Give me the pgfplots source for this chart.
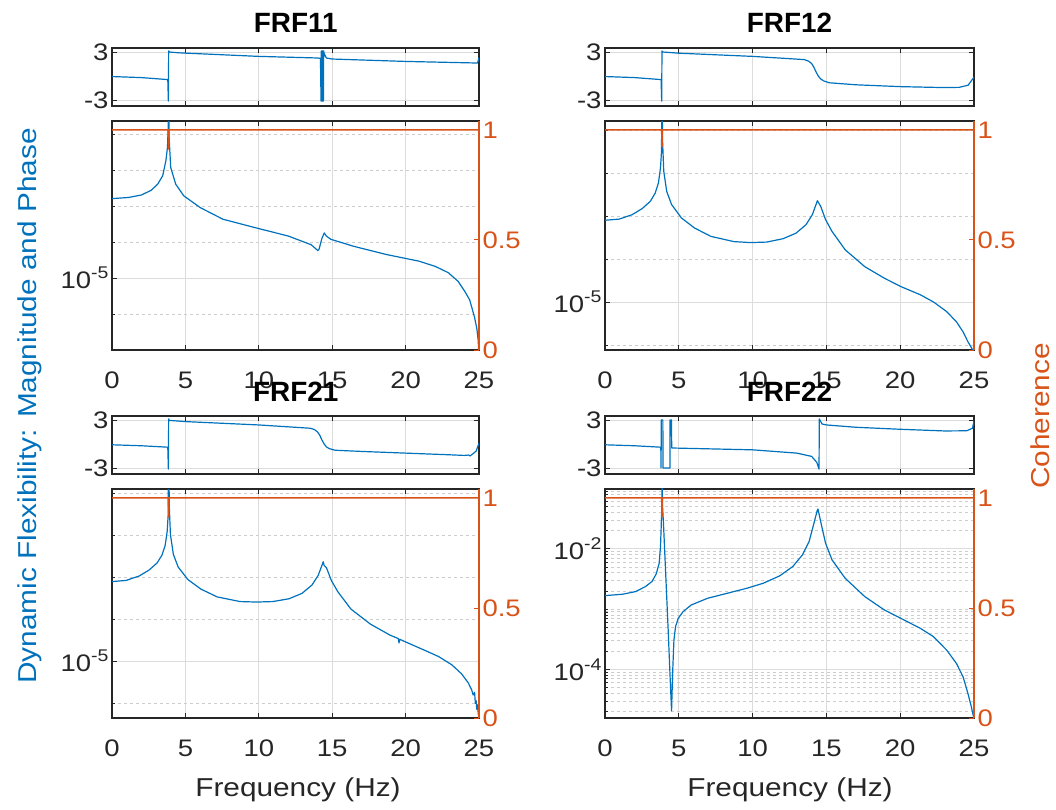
\documentclass[border=0pt]{standalone}
\usepackage{pgfplots}
\pgfplotsset{compat=1.18}
\usepackage{fontspec}
\setmainfont{Liberation Sans}[FakeStretch=1.15]
\newfontfamily\titlefam{Liberation Sans Bold}
\definecolor{mblue}{HTML}{0072BD}
\definecolor{morange}{HTML}{D95319}
\definecolor{axc}{HTML}{262626}
\definecolor{gridc}{HTML}{DCDCDC}
\definecolor{mgridc}{HTML}{CDCDCD}
\newcommand{\tickfont}{\fontsize{24}{24}\selectfont}
\newcommand{\labelfont}{\fontsize{26}{26}\selectfont}
\newcommand{\titlefont}{\titlefam\fontsize{28}{28}\selectfont}
\newcommand{\tensup}[1]{10\raisebox{0.42em}{\fontsize{17}{17}\selectfont #1}}
\pgfplotsset{
 frfbase/.style={scale only axis, anchor=south west, xmin=0, xmax=25, xtick={0,5,10,15,20,25},
   tick align=inside, axis line style={draw=axc, line width=1.3bp},
   tick style={draw=axc, line width=0.8bp}, major tick length=5bp, minor tick length=3bp,
   tick label style={font=\tickfont, text=axc}, xmajorgrids,
   major grid style={draw=gridc, line width=0.9bp},
   minor grid style={draw=mgridc, line width=0.9bp, dash pattern=on 3bp off 3bp}},
 frfphase/.style={frfbase, height=58bp, ymin=-3.75, ymax=3.5, ytick={-3,3}, yticklabels={-3,3},
   ymajorgrids, xticklabels={}, xtick pos=both, ytick pos=both},
 frfmag/.style={frfbase, height=229bp, xtick pos=both, ytick pos=left,
   ymajorgrids, yminorgrids, xticklabels={0,5,10,15,20,25},
   xticklabel style={anchor=base, yshift=-38bp}},
 frfcoh/.style={scale only axis, anchor=south west, height=229bp, xmin=0, xmax=25, ymin=0, ymax=1.04,
   axis y line*=right, axis x line=none, ytick={0,0.5,1}, yticklabels={0,0.5,1},
   tick align=inside, y axis line style={draw=morange, line width=1.3bp},
   ytick style={draw=morange, line width=0.8bp}, major tick length=5bp,
   yticklabel style={font=\tickfont, text=morange}},
 bl/.style={color=mblue, line width=1.2bp, mark=none, line join=round},
 ol/.style={color=morange, line width=1.5bp, mark=none},
}
\begin{document}
\begin{tikzpicture}
\path[use as bounding box] (0,0) rectangle (1056bp,810bp);

% ================= FRF11 =================
\begin{axis}[frfphase, at={(112bp,704bp)}, width=367bp]
\addplot[bl] coordinates {(0,-0.07)(2,-0.2)(3.8,-0.45)(3.84,-3.14)(3.86,3.14)(3.9,3.0)(4.5,2.9)(10,2.45)(14,2.25)(14.2,2.2)(14.24,-3.14)(14.26,3.14)(14.28,-3.14)(14.3,3.14)(14.32,-3.14)(14.34,3.14)(14.36,-3.14)(14.38,3.14)(14.4,-3.14)(14.42,3.14)(14.45,2.8)(14.6,2.25)(15,2.12)(20,1.82)(24.9,1.62)(25,2.3)};
\end{axis}
\begin{axis}[ymode=log, frfmag, at={(112bp,460bp)}, width=367bp, ymin=3.98e-6, ymax=7.45e-5,
  ytick={1e-5}, yticklabels={\tensup{-5}}, minor ytick={6.31e-6,1.585e-5,2.512e-5,3.981e-5,6.31e-5}]
\addplot[bl] coordinates {(0,2.76e-5)(1.11,2.80e-5)(2.0,2.89e-5)(2.67,3.07e-5)(3.11,3.32e-5)(3.45,3.69e-5)(3.67,4.48e-5)(3.78,5.32e-5)(3.83,7.0e-5)(3.86,1.6e-4)(3.89,6.04e-5)(4.0,4.11e-5)(4.34,3.32e-5)(4.89,2.86e-5)(6.01,2.46e-5)(7.56,2.12e-5)(9.79,1.90e-5)(12.01,1.71e-5)(13.57,1.53e-5)(14.02,1.42e-5)(14.1,1.44e-5)(14.3,1.66e-5)(14.46,1.78e-5)(14.6,1.71e-5)(14.91,1.64e-5)(16.46,1.50e-5)(18.69,1.35e-5)(20.91,1.24e-5)(22.02,1.16e-5)(22.91,1.07e-5)(23.58,9.57e-6)(24.03,8.43e-6)(24.36,7.57e-6)(24.52,6.81e-6)(24.7,6.03e-6)(24.85,5.25e-6)(24.95,4.47e-6)(25,3.16e-6)};
\end{axis}
\begin{axis}[frfcoh, at={(112bp,460bp)}, width=367bp]
\addplot[ol] coordinates {(0,1)(3.84,1)(3.86,0.91)(3.88,1)(25,1)};
\end{axis}

% ================= FRF12 =================
\begin{axis}[frfphase, at={(605bp,704bp)}, width=369bp]
\addplot[bl] coordinates {(0,-0.07)(2,-0.2)(3.8,-0.45)(3.84,-3.14)(3.86,3.14)(3.9,3.0)(5,2.85)(10,2.45)(13.5,2.05)(13.8,1.85)(14.0,1.55)(14.15,1.1)(14.3,0.5)(14.45,0.0)(14.6,-0.35)(14.8,-0.6)(15.2,-0.85)(17,-1.1)(20,-1.33)(23,-1.45)(24,-1.42)(24.6,-1.15)(25,-0.15)};
\end{axis}
\begin{axis}[ymode=log, frfmag, at={(605bp,460bp)}, width=369bp, ymin=5.98e-6, ymax=6.95e-5,
  ytick={1e-5}, yticklabels={\tensup{-5}}, minor ytick={6.31e-6,1.585e-5,2.512e-5,3.981e-5,6.31e-5}]
\addplot[bl] coordinates {(0,2.40e-5)(0.96,2.43e-5)(1.85,2.55e-5)(2.52,2.72e-5)(3.07,2.94e-5)(3.40,3.21e-5)(3.62,3.58e-5)(3.76,4.21e-5)(3.83,5.04e-5)(3.86,1.3e-4)(3.9,5.62e-5)(3.98,4.06e-5)(4.18,3.27e-5)(4.51,2.84e-5)(5.18,2.46e-5)(6.06,2.21e-5)(7.17,2.02e-5)(8.73,1.91e-5)(9.84,1.89e-5)(10.95,1.90e-5)(12.06,1.97e-5)(12.94,2.09e-5)(13.62,2.29e-5)(14.05,2.55e-5)(14.39,2.96e-5)(14.61,2.79e-5)(14.94,2.42e-5)(15.38,2.13e-5)(16.27,1.75e-5)(17.6,1.46e-5)(18.93,1.29e-5)(20.04,1.18e-5)(21.37,1.08e-5)(22.26,1.00e-5)(23.15,9.02e-6)(23.81,8.09e-6)(24.26,7.26e-6)(24.59,6.53e-6)(24.8,6.17e-6)(25,5.82e-6)};
\end{axis}
\begin{axis}[frfcoh, at={(605bp,460bp)}, width=369bp]
\addplot[ol] coordinates {(0,1)(3.84,1)(3.86,0.92)(3.88,1)(25,1)};
\end{axis}

% ================= FRF21 =================
\begin{axis}[frfphase, at={(112bp,336bp)}, width=367bp]
\addplot[bl] coordinates {(0,-0.1)(2,-0.22)(3.8,-0.4)(3.84,-3.14)(3.86,3.14)(3.9,2.95)(5,2.8)(10,2.38)(13.5,1.97)(13.8,1.8)(14.0,1.5)(14.15,1.1)(14.3,0.5)(14.45,0.0)(14.6,-0.35)(14.8,-0.58)(15.2,-0.78)(17,-0.93)(20,-1.14)(23,-1.35)(24,-1.43)(24.3,-1.38)(24.4,-1.5)(24.6,-1.2)(24.8,-0.9)(25,0.1)};
\end{axis}
\begin{axis}[ymode=log, frfmag, at={(112bp,92bp)}, width=367bp, ymin=5.36e-6, ymax=6.59e-5,
  ytick={1e-5}, yticklabels={\tensup{-5}}, minor ytick={6.31e-6,1.585e-5,2.512e-5,3.981e-5,6.31e-5}]
\addplot[bl] coordinates {(0,2.39e-5)(0.96,2.42e-5)(1.85,2.54e-5)(2.52,2.71e-5)(3.07,2.93e-5)(3.40,3.19e-5)(3.62,3.55e-5)(3.76,4.15e-5)(3.83,5.0e-5)(3.86,1.3e-4)(3.9,5.5e-5)(3.98,4.0e-5)(4.18,3.22e-5)(4.51,2.80e-5)(5.18,2.44e-5)(6.06,2.20e-5)(7.17,2.02e-5)(8.73,1.92e-5)(9.84,1.91e-5)(10.95,1.92e-5)(12.06,1.98e-5)(12.94,2.10e-5)(13.62,2.30e-5)(14.05,2.56e-5)(14.39,2.97e-5)(14.45,2.85e-5)(14.61,2.78e-5)(14.94,2.42e-5)(15.38,2.14e-5)(16.27,1.77e-5)(17.6,1.50e-5)(18.93,1.33e-5)(19.5,1.28e-5)(19.55,1.22e-5)(19.6,1.27e-5)(20.04,1.23e-5)(21.37,1.12e-5)(22.26,1.05e-5)(23.15,9.6e-6)(23.81,8.7e-6)(24.26,7.9e-6)(24.5,7.3e-6)(24.6,6.9e-6)(24.7,7.1e-6)(24.75,6.3e-6)(24.8,6.5e-6)(24.85,5.9e-6)(24.9,6.2e-6)(24.95,5.6e-6)(25,5.43e-6)};
\end{axis}
\begin{axis}[frfcoh, at={(112bp,92bp)}, width=367bp]
\addplot[ol] coordinates {(0,1)(3.84,1)(3.86,0.91)(3.88,1)(25,1)};
\end{axis}

% ================= FRF22 =================
\begin{axis}[frfphase, at={(605bp,336bp)}, width=369bp]
\addplot[bl] coordinates {(0,-0.1)(2,-0.22)(3.78,-0.4)(3.8,-3.0)(3.81,3.0)(3.92,3.0)(3.93,-3.0)(4.40,-3.0)(4.41,3.0)(4.50,3.0)(4.52,-0.5)(10,-0.73)(13,-1.14)(14,-1.55)(14.35,-2.3)(14.5,-3.14)(14.52,3.14)(14.7,2.5)(15,2.38)(17,2.09)(20,1.84)(23,1.63)(24.5,1.65)(24.9,1.97)(25,2.9)};
\end{axis}
\begin{axis}[ymode=log, frfmag, at={(605bp,92bp)}, width=369bp, ymin=1.57e-5, ymax=9.8e-2,
  ytick={1e-4,1e-2}, yticklabels={\tensup{-4},\tensup{-2}},
  minor ytick={2e-5,3e-5,4e-5,5e-5,6e-5,7e-5,8e-5,9e-5,2e-4,3e-4,4e-4,5e-4,6e-4,7e-4,8e-4,9e-4,1e-3,2e-3,3e-3,4e-3,5e-3,6e-3,7e-3,8e-3,9e-3,2e-2,3e-2,4e-2,5e-2,6e-2,7e-2,8e-2,9e-2}]
\addplot[bl] coordinates {(0,1.675e-3)(1.18,1.766e-3)(2.07,1.954e-3)(2.74,2.366e-3)(3.18,2.864e-3)(3.47,3.837e-3)(3.67,5.781e-3)(3.76,1.094e-2)(3.80,2.070e-2)(3.85,5.058e-2)(3.86,0.158)(3.9,5.0e-2)(3.96,2.673e-2)(4.07,6.561e-3)(4.18,1.614e-3)(4.29,3.963e-4)(4.40,8.590e-5)(4.51,2.056e-5)(4.58,8.590e-5)(4.67,3.076e-4)(4.78,5.117e-4)(4.96,7.047e-4)(5.29,9.078e-4)(5.84,1.172e-3)(6.95,1.514e-3)(8.28,1.832e-3)(9.61,2.218e-3)(10.72,2.685e-3)(11.83,3.556e-3)(12.72,5.082e-3)(13.38,7.943e-3)(13.83,1.324e-2)(14.16,2.673e-2)(14.38,4.335e-2)(14.43,4.560e-2)(14.61,2.844e-2)(14.94,1.242e-2)(15.38,6.561e-3)(16.27,3.251e-3)(17.6,1.614e-3)(18.93,9.683e-4)(20.04,7.047e-4)(21.37,4.797e-4)(22.26,3.491e-4)(23.15,2.094e-4)(23.81,1.259e-4)(24.26,7.551e-5)(24.59,3.990e-5)(24.8,2.512e-5)(25,1.514e-5)};
\end{axis}
\begin{axis}[frfcoh, at={(605bp,92bp)}, width=369bp]
\addplot[ol] coordinates {(0,1)(3.84,1)(3.86,0.91)(3.88,1)(25,1)};
\end{axis}

% ================= titles and labels =================
\node[font=\titlefont, anchor=base, text=black] at (295.7bp,777bp) {FRF11};
\node[font=\titlefont, anchor=base, text=black] at (789.5bp,777bp) {FRF12};
\node[font=\titlefont, anchor=base, text=black] at (295.7bp,408.5bp) {FRF21};
\node[font=\titlefont, anchor=base, text=black] at (789.5bp,408.5bp) {FRF22};
\node[font=\labelfont, anchor=base, text=axc] at (298bp,14bp) {Frequency (Hz)};
\node[font=\labelfont, anchor=base, text=axc] at (790bp,14bp) {Frequency (Hz)};
\node[font=\labelfont, rotate=90, text=mblue] at (30bp,404bp) {Dynamic Flexibility: Magnitude and Phase};
\node[font=\labelfont, rotate=90, text=morange] at (1040bp,394bp) {Coherence};
\end{tikzpicture}
\end{document}
